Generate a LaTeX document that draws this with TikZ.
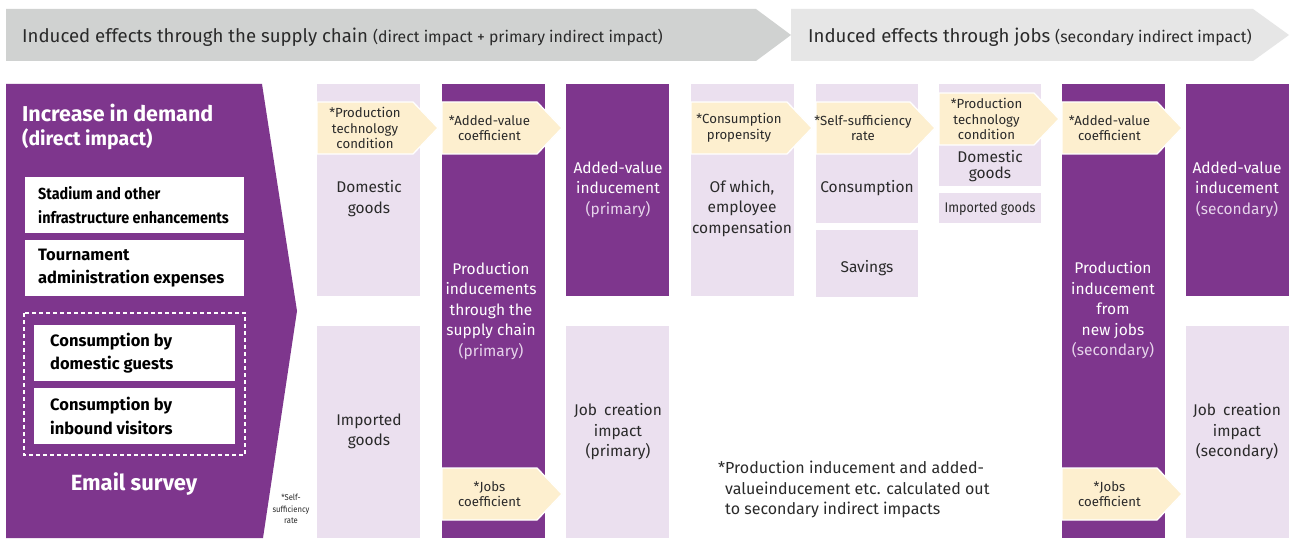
\documentclass[tikz,border=0pt]{standalone}
\usepackage{fontspec}
\setmainfont{Fira Sans}
\newfontfamily\condfont[FakeStretch=0.9]{Fira Sans}
\definecolor{pur}{HTML}{7E368D}
\definecolor{lpur}{HTML}{EBE0EF}
\definecolor{cream}{HTML}{FDEFCF}
\definecolor{gA}{HTML}{D0D2D1}
\definecolor{gB}{HTML}{E6E6E6}
\definecolor{txt}{HTML}{2A2A2A}
\definecolor{lav}{HTML}{E6D4EB}
\newcommand{\yarr}[5]{%
  \fill[cream, draw=white, line width=1.3pt] (#2,#3) -- (#4,#3) -- ({#4+25},{#3+26}) -- (#4,{#3+52}) -- (#2,{#3+52}) -- cycle;
  \node[ytext] (#1) at ({(#2+#4)/2},{#3+26}) {#5};}
\tikzset{
  ltext/.style={align=center, text=txt, inner sep=0pt, font=\fontsize{15.5}{20.5}\selectfont},
  wtext/.style={align=center, text=white, inner sep=0pt, font=\fontsize{15.5}{20.5}\selectfont},
  ytext/.style={align=center, text=txt, inner sep=0pt, font=\fontsize{13.2}{15.5}\selectfont},
  wbox/.style={fill=white, draw=none},
  btext/.style={align=left, anchor=west, text=black, inner sep=0pt, font=\bfseries\fontsize{16.5}{23.5}\selectfont},
}
\begin{document}
\begin{tikzpicture}[x=1pt,y=-1pt]
\useasboundingbox (0,0) rectangle (1303,540);
\fill[white] (0,0) rectangle (1303,540);
% banners
\fill[gB] (791,9) -- (1253,9) -- (1289,35) -- (1253,61) -- (791,61) -- cycle;
\fill[gA] (6,9) -- (756,9) -- (791,35) -- (756,61) -- (6,61) -- cycle;
\node[anchor=west, inner sep=0pt, text=txt] (h1) at (22,37) {\fontsize{18.6}{20}\selectfont Induced effects through the supply chain \fontsize{15.8}{16}\selectfont(direct impact + primary indirect impact)};
\node[anchor=west, inner sep=0pt, text=txt] (h2) at (808,37) {\fontsize{18.6}{20}\selectfont Induced effects through jobs \fontsize{15.8}{16}\selectfont(secondary indirect impact)};
% left panel
\fill[pur] (6,84) -- (262,84) -- (297,311) -- (263,538) -- (6,538) -- cycle;
\node[anchor=west, align=left, inner sep=0pt, text=white, font=\bfseries\fontsize{21.5}{25}\selectfont] (title) at (22,126.5) {Increase in demand\\[-1pt]{\fontsize{19.5}{25}\selectfont(direct impact)}};
\fill[wbox] (25,177) rectangle (244,233);
\node[btext, font=\condfont\bfseries\fontsize{16}{23.5}\selectfont] (b1) at (38,205) {Stadium and other\\infrastructure enhancements};
\fill[wbox] (25,240) rectangle (244,296);
\node[btext] (b2) at (38,268) {Tournament\\administration expenses};
\draw[white, line width=1.6pt, dash pattern=on 4pt off 3pt] (24,313) rectangle (245,455);
\fill[wbox] (34,325) rectangle (235,381);
\node[btext] (b3) at (50,353) {Consumption by\\domestic guests};
\fill[wbox] (34,388) rectangle (235,444);
\node[btext] (b4) at (50,416) {Consumption by\\inbound visitors};
\node[text=white, inner sep=0pt, font=\bfseries\fontsize{22}{22}\selectfont] (email) at (134,484) {Email survey};
\node[align=center, inner sep=0pt, text=txt, font=\condfont\fontsize{8.5}{11.5}\selectfont] (ssr) at (291,509) {*Self-\\sufficiency\\rate};
% column A
\fill[lpur] (317,84) rectangle (420,296);
\fill[lpur] (317,326) rectangle (420,538);
\yarr{yA}{317}{102}{413}{*Production\\technology\\condition}
\node[ltext] (dgA) at (369,198.5) {Domestic\\goods};
\node[ltext] (igA) at (369,431.5) {Imported\\goods};
% column B
\fill[pur] (442,84) rectangle (545,538);
\yarr{yB}{442}{102}{537}{*Added-value\\coefficient}
\node[wtext] (pB) at (491,311) {Production\\inducements\\through the\\supply chain\\{\color{lav}(primary)}};
\yarr{yB2}{442}{468}{537}{*Jobs\\coefficient}
% column C
\fill[pur] (566,84) rectangle (669,296);
\fill[lpur] (566,326) rectangle (669,538);
\node[wtext] (avC) at (618,189.5) {Added-value\\inducement\\{\color{lav}(primary)}};
\node[ltext] (jcC) at (618,432) {Job\hspace{0.45em}creation\\impact\\(primary)};
% column D
\fill[lpur] (691,84) rectangle (794,296);
\yarr{yD}{691}{102}{787}{*Consumption\\propensity}
\node[ltext] (ecD) at (742,208.5) {Of which,\\employee\\compensation};
% column E
\fill[lpur] (816,84) rectangle (918,223);
\fill[lpur] (816,230) rectangle (918,297);
\yarr{yE}{816}{102}{910}{*Self-sufficiency\\rate}
\node[ltext] (cE) at (867,188) {Consumption};
\node[ltext] (sE) at (867,268) {Savings};
% column F
\fill[lpur] (939,84) rectangle (1041,186);
\fill[lpur] (939,193) rectangle (1041,223);
\yarr{yF}{939}{93}{1034}{*Production\\technology\\condition}
\node[ltext, font=\fontsize{15.5}{16.5}\selectfont] (dgF) at (990,166) {Domestic\\goods};
\node[ltext, font=\condfont\fontsize{14}{16}\selectfont] (igF) at (990,209) {Imported goods};
% column G
\fill[pur] (1062,84) rectangle (1165,538);
\yarr{yG}{1062}{102}{1157}{*Added-value\\coefficient}
\node[wtext] (pG) at (1113,310.5) {Production\\inducement\\from\\new jobs\\{\color{lav}(secondary)}};
\yarr{yG2}{1062}{468}{1157}{*Jobs\\coefficient}
% column H
\fill[pur] (1186,84) rectangle (1289,296);
\fill[lpur] (1186,326) rectangle (1289,538);
\node[wtext] (avH) at (1237,189.5) {Added-value\\inducement\\{\color{lav}(secondary)}};
\node[ltext] (jcH) at (1237,432) {Job\hspace{0.45em}creation\\impact\\(secondary)};
% footnote
\node[anchor=north west, align=left, inner sep=0pt, text=txt, font=\fontsize{16}{20.5}\selectfont] (fn) at (718,461) {*Production inducement and added-\\\hphantom{*}valueinducement etc. calculated out\\\hphantom{*}to secondary indirect impacts};
\end{tikzpicture}
\end{document}
